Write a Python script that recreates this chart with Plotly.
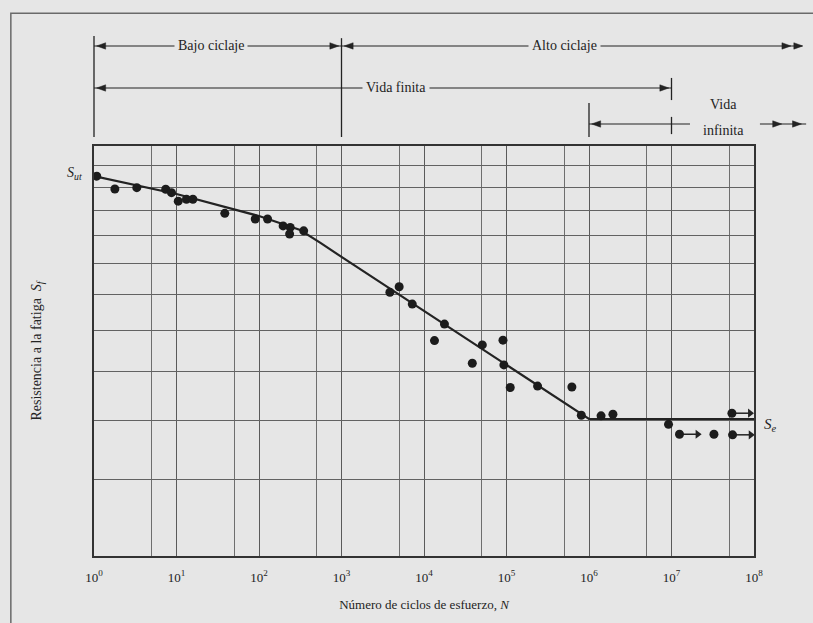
import math
import plotly.graph_objects as go

# ---------------- data ----------------
# S-N curve (fatigue strength vs. number of cycles)
curve_N = [1, 10, 100, 316, 562, 1e3, 1e6, 1e8]
curve_S = [125.0, 116.9, 107.6, 102.1, 97.2, 92.3, 50.2, 50.2]

# test points
test_N = [1.08, 1.79, 3.3, 7.4, 8.7, 10.5, 13.2, 15.8, 38.5, 90, 127, 196, 239, 235, 348,
          3860, 5000, 7210, 17700, 13400, 50900, 90600, 38500, 93000, 111000, 238000,
          620000, 807000, 1.4e6, 1.95e6, 9.2e6, 1.25e7, 3.27e7, 5.4e7, 5.5e7]
test_S = [125.0, 119.1, 119.7, 119.0, 117.5, 113.8, 114.6, 114.6, 108.7, 106.4, 106.4, 103.7,
          103.1, 100.6, 101.8, 80.8, 82.5, 77.3, 71.7, 67.4, 66.3, 67.5, 61.9, 61.5, 56.5,
          56.8, 56.6, 50.9, 50.8, 51.1, 49.2, 47.4, 47.4, 51.3, 47.3]
# points that did not fail (run-outs, drawn with an arrow)
runout_idx = [31, 33, 34]

S_ut = 125.0
S_e = 50.2

x_tickvals = [1e0, 1e1, 1e2, 1e3, 1e4, 1e5, 1e6, 1e7, 1e8]
x_ticktext = ["10<sup>%d</sup>" % k for k in range(9)]
x_minorvals = [5e0, 5e1, 5e2, 5e3, 5e4, 5e5, 5e6, 5e7]
y_gridvals = [40, 50, 60, 70, 80, 90, 100, 110, 120, 130]
Y_MIN, Y_MAX = 30, 140

# regions above the chart (log10 N of their limits)
LOW_CYCLE = (0, 3)
FINITE_LIFE = (0, 7)
INFINITE_START = 6

# ---------------- styling ----------------
BG = "#e6e6e6"
INK = "#232323"
FONT = "Liberation Serif"
XR = (0, 8)
PLOT_W, PLOT_H = 660, 410
RUNOUT_LEN = 0.22  # decades


def xp(logn):
    return (logn - XR[0]) / (XR[1] - XR[0])


fig = go.Figure()

fig.add_trace(go.Scatter(x=curve_N, y=curve_S, mode="lines",
                         line=dict(color=INK, width=2.2), hoverinfo="skip", showlegend=False))

# run-out arrows (stem + head)
stem_x, stem_y, head_x, head_y = [], [], [], []
for i in runout_idx:
    stem_x += [test_N[i], test_N[i] * 10 ** RUNOUT_LEN, None]
    stem_y += [test_S[i], test_S[i], None]
    head_x.append(test_N[i] * 10 ** RUNOUT_LEN)
    head_y.append(test_S[i])
fig.add_trace(go.Scatter(x=stem_x, y=stem_y, mode="lines", line=dict(color=INK, width=1.5),
                         hoverinfo="skip", showlegend=False))
fig.add_trace(go.Scatter(x=head_x, y=head_y, mode="markers",
                         marker=dict(symbol="triangle-right", size=8, color=INK),
                         hoverinfo="skip", showlegend=False))

fig.add_trace(go.Scatter(x=test_N, y=test_S, mode="markers",
                         marker=dict(color="#1c1c1c", size=9), showlegend=False))

annotations = []
shapes = []

# S_ut and S_e labels
annotations.append(dict(x=0, y=math.log10(S_ut), xref="paper", yref="y", xanchor="right",
                        yanchor="middle", xshift=-10, yshift=3, showarrow=False,
                        text="<i>S<sub>ut</sub></i>", font=dict(family=FONT, size=14, color=INK)))
annotations.append(dict(x=1, y=math.log10(S_e), xref="paper", yref="y", xanchor="left",
                        yanchor="middle", xshift=8, yshift=-6, showarrow=False,
                        text="<i>S<sub>e</sub></i>", font=dict(family=FONT, size=15, color=INK)))


def hline(x0, x1, y, w=1.1):
    shapes.append(dict(type="line", xref="paper", yref="paper", x0=x0, x1=x1, y0=y, y1=y,
                       line=dict(color=INK, width=w)))


def vline(x, y0, y1, w=1.3):
    shapes.append(dict(type="line", xref="paper", yref="paper", x0=x, x1=x, y0=y0, y1=y1,
                       line=dict(color=INK, width=w)))


def head(x, y, direction):
    # filled triangle, tip at (x, y), pointing left (-1) or right (+1)
    dx = 9.0 / PLOT_W * direction
    dy = 3.2 / PLOT_H
    path = "M %.5f,%.5f L %.5f,%.5f L %.5f,%.5f Z" % (x, y, x - dx, y + dy, x - dx, y - dy)
    shapes.append(dict(type="path", xref="paper", yref="paper", path=path,
                       fillcolor=INK, line=dict(color=INK, width=0.5)))


def label(x, y, text, bg=True):
    annotations.append(dict(x=x, y=y, xref="paper", yref="paper", text=text, showarrow=False,
                            bgcolor=BG if bg else None, borderpad=3, xanchor="center",
                            yanchor="middle", font=dict(family=FONT, size=14, color=INK)))


d = 0.004
# vertical separators
vline(xp(LOW_CYCLE[0]), 1.022, 1.268)
vline(xp(LOW_CYCLE[1]), 1.022, 1.263)
vline(xp(INFINITE_START), 1.022, 1.105)
vline(xp(FINITE_LIFE[1]), 1.112, 1.166)
vline(xp(FINITE_LIFE[1]), 1.029, 1.071)

# row 1 : Bajo ciclaje / Alto ciclaje
r1 = 1.244
hline(xp(LOW_CYCLE[0]), xp(LOW_CYCLE[1]), r1)
head(xp(LOW_CYCLE[0]) + d, r1, -1)
head(xp(LOW_CYCLE[1]) - d, r1, 1)
label(xp(1.42), r1, "Bajo ciclaje")
hline(xp(LOW_CYCLE[1]), 1.073, r1)
head(xp(LOW_CYCLE[1]) + d, r1, -1)
head(1.056, r1, 1)
head(1.074, r1, 1)
label(xp(5.70), r1, "Alto ciclaje")

# row 2 : Vida finita
r2 = 1.1415
hline(xp(FINITE_LIFE[0]), xp(FINITE_LIFE[1]), r2)
head(xp(FINITE_LIFE[0]) + d, r2, -1)
head(xp(FINITE_LIFE[1]) - d, r2, 1)
label(xp(3.66), r2, "Vida finita")

# row 3 : Vida infinita
r3 = 1.0537
hline(xp(INFINITE_START), 0.903, r3)
head(xp(INFINITE_START) + d, r3, -1)
hline(1.009, 1.079, r3)
head(1.042, r3, 1)
head(1.072, r3, 1)
label(xp(7.63), 1.1024, "Vida", bg=False)
label(xp(7.63), 1.0366, "infinita", bg=False)

# outer frame of the scanned picture
shapes.append(dict(type="rect", xref="paper", yref="paper", x0=-0.126, x1=2, y0=-1, y1=1.324,
                   line=dict(color="#6a6a6a", width=1.5), fillcolor="rgba(0,0,0,0)"))

fig.update_layout(
    width=813, height=623,
    margin=dict(l=94, r=59, t=146, b=67),
    paper_bgcolor=BG, plot_bgcolor=BG,
    font=dict(family=FONT, size=13, color=INK),
    shapes=shapes, annotations=annotations,
    showlegend=False,
)

fig.update_xaxes(
    type="log", range=list(XR),
    tickmode="array", tickvals=x_tickvals, ticktext=x_ticktext,
    ticks="", ticklabelstandoff=8,
    tickfont=dict(family=FONT, size=13, color=INK),
    showgrid=True, gridcolor="#5a5a5a", gridwidth=1,
    minor=dict(tickmode="array", tickvals=x_minorvals, showgrid=True, gridcolor="#6e6e6e",
               gridwidth=1, ticks=""),
    showline=True, linecolor="#333333", linewidth=2, mirror=True,
    zeroline=False,
    title=dict(text="Número de ciclos de esfuerzo, <i>N</i>", standoff=16,
               font=dict(family=FONT, size=13, color=INK)),
)

fig.update_yaxes(
    type="log", range=[math.log10(Y_MIN), math.log10(Y_MAX)],
    tickmode="array", tickvals=y_gridvals, showticklabels=False, ticks="",
    showgrid=True, gridcolor="#626262", gridwidth=1,
    showline=True, linecolor="#333333", linewidth=2, mirror=True,
    zeroline=False,
    title=dict(text="Resistencia a la fatiga  <i>S<sub>f</sub></i>", standoff=47,
               font=dict(family=FONT, size=14, color=INK)),
)

fig.write_html(
    "out.html",
    config={"displayModeBar": False},
    post_script="document.body.style.margin='0px';document.body.style.background='%s';" % BG,
)
